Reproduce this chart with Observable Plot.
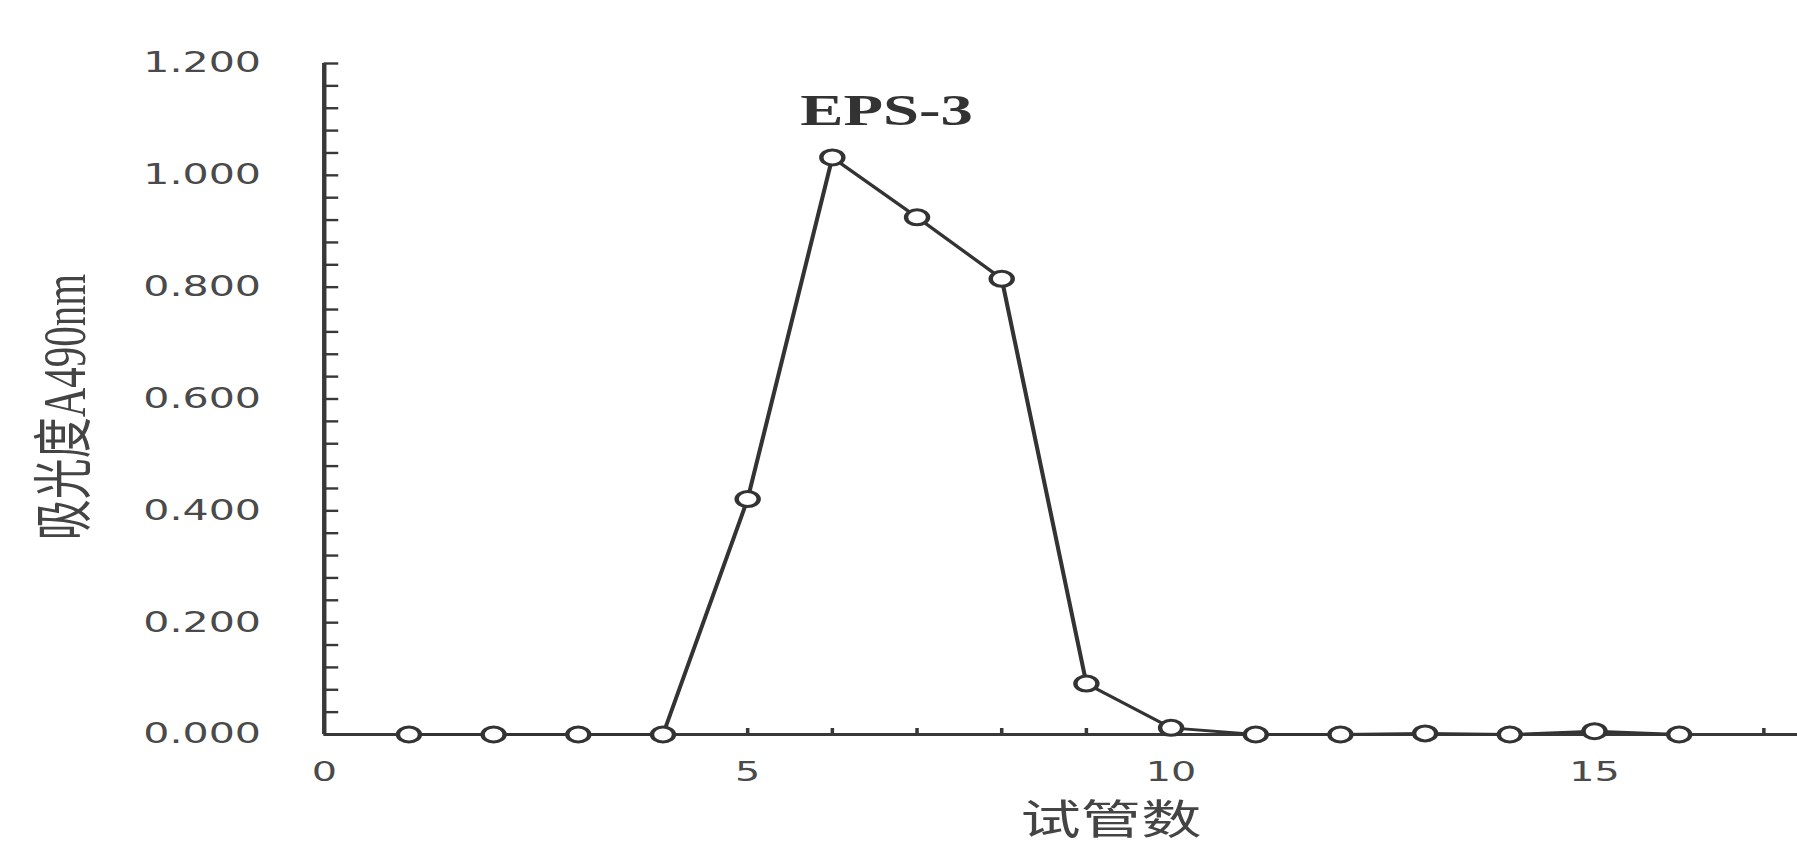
<!DOCTYPE html>
<html>
<head>
<meta charset="utf-8">
<script src="https://cdn.jsdelivr.net/npm/d3@7"></script>
<script src="https://cdn.jsdelivr.net/npm/@observablehq/plot@0.6"></script>
<style>
  html, body { margin: 0; padding: 0; background: #fff; overflow: hidden; }
  #chart { width: 1797px; height: 848px; }
</style>
</head>
<body>
<div id="chart"></div>
<script>
// ---- data ----
const tubes = [1, 2, 3, 4, 5, 6, 7, 8, 9, 10, 11, 12, 13, 14, 15, 16];
const absorbance = [0, 0, 0, 0, 0.421, 1.032, 0.925, 0.815, 0.091, 0.012, 0, 0, 0.002, 0, 0.006, 0];
const yTickValues = [0, 0.2, 0.4, 0.6, 0.8, 1.0, 1.2];
const yMinorTicks = d3.range(0, 31).map(i => +(i * 0.04).toFixed(2));
const xTickValues = [0, 5, 10, 15];
const xMinorTicks = d3.range(1, 18);
const peakLabel = [{label: "EPS-3", tube: 6.64, value: 1.115}];
const xTitle = "试管数";
const yTitle = "吸光度A490nm";

// ---- chart ----
const OUT_W = 1797, H = 848, STRETCH = 1.47;
const W = Math.round(OUT_W / STRETCH);
const data = tubes.map((t, i) => ({tube: t, value: absorbance[i]}));
const blank = () => "";

const plot = Plot.plot({
  width: W,
  height: H,
  marginLeft: 220,
  marginRight: 0,
  marginTop: 63,
  marginBottom: 114,
  x: {domain: [0, 17.4]},
  y: {domain: [0, 1.2]},
  style: {fontFamily: "'DejaVu Sans', 'Noto Sans CJK SC', sans-serif", color: "#333", background: "white"},
  marks: [
    Plot.ruleY([0], {stroke: "#383838", strokeWidth: 3.2}),
    Plot.ruleX([0], {stroke: "#383838", strokeWidth: 3}),
    Plot.axisY({ticks: yMinorTicks, tickSize: 10, dx: 10, tickFormat: blank, label: null, stroke: "#383838", strokeWidth: 2.4}),
    Plot.axisY({ticks: yTickValues, tickSize: 0, tickPadding: 43, tickFormat: d3.format(".3f"), label: null, fontSize: 28, fill: "#4a4a4a"}),
    Plot.axisX({ticks: xMinorTicks, tickSize: 6, dy: -6, tickFormat: blank, label: null, stroke: "#383838", strokeWidth: 2.4}),
    Plot.axisX({ticks: xTickValues, tickSize: 0, tickPadding: 27, label: null, fontSize: 27, fill: "#4a4a4a"}),
    Plot.line(data, {x: "tube", y: "value", stroke: "#333", strokeWidth: 2.8}),
    Plot.dot(data, {x: "tube", y: "value", r: 7.5, fill: "white", stroke: "#333", strokeWidth: 3}),
    Plot.text(peakLabel, {x: "tube", y: "value", text: "label", fontFamily: "'Liberation Serif', serif", fontWeight: "bold", fontSize: 44, fill: "#333"}),
    Plot.text([xTitle], {text: d => d, frameAnchor: "bottom", dx: 34, dy: 99, fontSize: 41, fontFamily: "'Noto Sans CJK SC', sans-serif", fill: "#444"}),
    Plot.text([yTitle], {text: d => d, frameAnchor: "left", textAnchor: "middle", rotate: -90, dx: -176, dy: 8, fontSize: 41, fontFamily: "'Liberation Serif', 'Noto Sans CJK SC', serif", fill: "#444"})
  ]
});

// the original picture is horizontally stretched: scale the drawing to the full width
plot.setAttribute("preserveAspectRatio", "none");
plot.setAttribute("width", OUT_W);
plot.setAttribute("height", H);
plot.style.width = OUT_W + "px";
plot.style.height = H + "px";
plot.style.maxWidth = "none";
document.getElementById("chart").appendChild(plot);
</script>
</body>
</html>
